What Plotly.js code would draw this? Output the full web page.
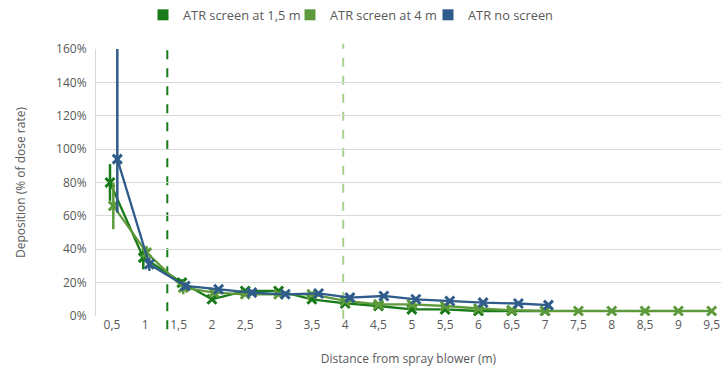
<!DOCTYPE html>
<html><head><meta charset="utf-8">
<script src="https://cdn.plot.ly/plotly-3.0.1.min.js"></script>
<style>html,body{margin:0;padding:0;background:#fff}#chart{width:721px;height:371px}</style>
</head><body><div id="chart"></div>
<script>
// Series: ATR screen at 1,5 m
const xScreen15 = [0.47, 0.97, 1.55, 2, 2.5, 3, 3.5, 4, 4.5, 5, 5.5, 6, 6.5, 7];
const yScreen15 = [80, 35, 20, 10, 15, 15, 10, 7.5, 6, 4, 4, 3, 3, 3];
const eScreen15 = [11, 7, 2, 0, 0, 0, 0, 0, 0, 0, 0, 0, 0, 0];
// Series: ATR screen at 4 m
const xScreen4 = [0.52, 1.02, 1.57, 2.03, 2.5, 3, 3.5, 4, 4.5, 5, 5.5, 6, 6.5, 7, 7.5, 8, 8.5, 9, 9.5];
const yScreen4 = [66, 38, 17, 14, 13, 13, 13, 9, 7, 7, 6, 4.5, 3.5, 3, 3, 3, 3, 3, 3];
const eScreen4 = [14, 4, 4, 0, 0, 0, 0, 0, 0, 0, 0, 0, 0, 0, 0, 0, 0, 0, 0];
// Series: ATR no screen
const xNoScreen = [0.58, 1.06, 1.6, 2.1, 2.6, 3.1, 3.6, 4.07, 4.58, 5.06, 5.57, 6.07, 6.6, 7.05];
const yNoScreen = [94, 31, 18, 16, 14, 13, 13.5, 11, 12, 10, 9, 8, 7.5, 6.5];
const eNoScreenPlus = [70, 4, 2, 0, 0, 0, 0, 0, 0, 0, 0, 0, 0, 0];
const eNoScreenMinus = [32, 4, 2, 0, 0, 0, 0, 0, 0, 0, 0, 0, 0, 0];
// Screen positions (dashed lines)
const screenPos15 = 1.33;
const screenPos4 = 3.97;
// Tick labels
const xTickVals = [0.5, 1, 1.5, 2, 2.5, 3, 3.5, 4, 4.5, 5, 5.5, 6, 6.5, 7, 7.5, 8, 8.5, 9, 9.5];
const xTickText = ['0,5','1','1,5','2','2,5','3','3,5','4','4,5','5','5,5','6','6,5','7','7,5','8','8,5','9','9,5'];
const yTickVals = [0, 20, 40, 60, 80, 100, 120, 140, 160];
const yTickText = ['0%', '20%', '40%', '60%', '80%', '100%', '120%', '140%', '160%'];
const seriesNames = ['ATR screen at 1,5 m', 'ATR screen at 4 m', 'ATR no screen'];

const cDark = '#187a18', cLight = '#5e9a3c', cBlue = '#2f5c8a';
const font = 'Open Sans, sans-serif';
const gray = '#595959';

function series(x, y, errP, errM, color) {
  return {
    x: x, y: y, type: 'scatter', mode: 'lines+markers', showlegend: false,
    line: {color: color, width: 2.3},
    marker: {symbol: 'x-thin', size: 9, line: {color: color, width: 3}, color: color},
    error_y: {type: 'data', symmetric: errM ? false : true, array: errP, arrayminus: errM || errP,
              color: color, thickness: 2.5, width: 0},
    cliponaxis: true
  };
}
function legendTrace(name, color, legendId) {
  return {x: [null], y: [null], type: 'scatter', mode: 'markers', name: name, showlegend: true, legend: legendId,
          marker: {symbol: 'square', size: 11, color: color}};
}
const traces = [
  series(xScreen15, yScreen15, eScreen15, null, cDark),
  series(xScreen4, yScreen4, eScreen4, null, cLight),
  series(xNoScreen, yNoScreen, eNoScreenPlus, eNoScreenMinus, cBlue),
  legendTrace(seriesNames[0], cDark, 'legend'),
  legendTrace(seriesNames[1], cLight, 'legend2'),
  legendTrace(seriesNames[2], cBlue, 'legend3')
];
function leg(px) {
  return {orientation: 'h', x: px / 721, xanchor: 'left', xref: 'container', y: 1, yref: 'container', yanchor: 'top',
          font: {family: font, size: 12.8, color: gray}, itemwidth: 30, bgcolor: 'rgba(0,0,0,0)'};
}
const layout = {
  width: 721, height: 371,
  margin: {l: 96, r: 0, t: 49, b: 55},
  paper_bgcolor: '#fff', plot_bgcolor: '#fff',
  font: {family: font, size: 12, color: gray},
  showlegend: true,
  legend: leg(143), legend2: leg(290), legend3: leg(428),
  xaxis: {range: [0.26, 9.64], tickvals: xTickVals, ticktext: xTickText, showgrid: false, zeroline: false,
          showline: false, ticks: '', tickfont: {size: 12, color: gray},
          title: {text: 'Distance from spray blower (m)', font: {size: 12, color: gray}, standoff: 22}},
  yaxis: {range: [0, 160], tickvals: yTickVals, ticktext: yTickText, showgrid: true, gridcolor: '#d9d9d9', gridwidth: 1,
          zeroline: false, showline: true, linecolor: '#d9d9d9', ticks: '', tickfont: {size: 12, color: gray},
          ticklabelstandoff: 6,
          title: {text: 'Deposition (% of dose rate)', font: {size: 12, color: gray}, standoff: 27}},
  shapes: [
    {type: 'line', xref: 'x', yref: 'paper', x0: screenPos15, x1: screenPos15, y0: -0.05, y1: 1.02,
     line: {color: cDark, width: 2, dash: 'dash'}, layer: 'below'},
    {type: 'line', xref: 'x', yref: 'paper', x0: screenPos4, x1: screenPos4, y0: -0.01, y1: 1.02,
     line: {color: '#a9d18e', width: 2, dash: 'dash'}, layer: 'below'}
  ]
};
Plotly.newPlot('chart', traces, layout, {staticPlot: true, displayModeBar: false});
</script></body></html>
